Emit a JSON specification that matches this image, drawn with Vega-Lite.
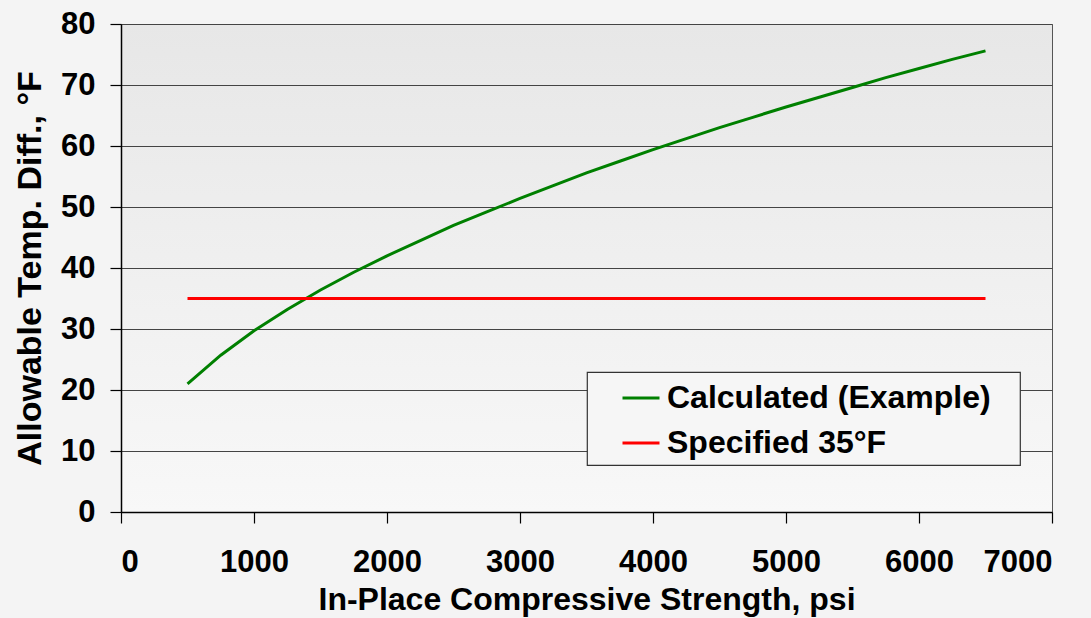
{
  "$schema": "https://vega.github.io/schema/vega-lite/v6.json",
  "width": 931,
  "height": 488,
  "autosize": {"type": "none"},
  "padding": {"left": 121, "top": 24, "right": 39, "bottom": 106},
  "background": "#f4f4f4",
  "config": {
    "font": "Liberation Sans",
    "view": {
      "stroke": "#555555",
      "strokeWidth": 1,
      "fill": {
        "gradient": "linear",
        "x1": 0, "y1": 0, "x2": 0, "y2": 1,
        "stops": [
          {"offset": 0, "color": "#e7e7e7"},
          {"offset": 1, "color": "#f8f8f8"}
        ]
      }
    },
    "legend": {"strokeWidth": 1.2},
    "axis": {
      "labelFont": "Liberation Sans",
      "labelFontWeight": "bold",
      "labelFontSize": 31,
      "labelColor": "#000000",
      "titleFont": "Liberation Sans",
      "titleFontWeight": "bold",
      "titleColor": "#000000",
      "domainColor": "#000000",
      "domainWidth": 1.5,
      "tickColor": "#000000",
      "tickSize": 11,
      "tickWidth": 1.2
    }
  },
  "data": {
    "values": [
      {"psi": 500, "temp": 21.0, "series": "Calculated (Example)"},
      {"psi": 750, "temp": 25.7, "series": "Calculated (Example)"},
      {"psi": 1000, "temp": 29.7, "series": "Calculated (Example)"},
      {"psi": 1250, "temp": 33.2, "series": "Calculated (Example)"},
      {"psi": 1500, "temp": 36.4, "series": "Calculated (Example)"},
      {"psi": 1750, "temp": 39.3, "series": "Calculated (Example)"},
      {"psi": 2000, "temp": 42.0, "series": "Calculated (Example)"},
      {"psi": 2250, "temp": 44.5, "series": "Calculated (Example)"},
      {"psi": 2500, "temp": 47.0, "series": "Calculated (Example)"},
      {"psi": 2750, "temp": 49.2, "series": "Calculated (Example)"},
      {"psi": 3000, "temp": 51.4, "series": "Calculated (Example)"},
      {"psi": 3250, "temp": 53.5, "series": "Calculated (Example)"},
      {"psi": 3500, "temp": 55.6, "series": "Calculated (Example)"},
      {"psi": 3750, "temp": 57.5, "series": "Calculated (Example)"},
      {"psi": 4000, "temp": 59.4, "series": "Calculated (Example)"},
      {"psi": 4250, "temp": 61.2, "series": "Calculated (Example)"},
      {"psi": 4500, "temp": 63.0, "series": "Calculated (Example)"},
      {"psi": 4750, "temp": 64.7, "series": "Calculated (Example)"},
      {"psi": 5000, "temp": 66.4, "series": "Calculated (Example)"},
      {"psi": 5250, "temp": 68.0, "series": "Calculated (Example)"},
      {"psi": 5500, "temp": 69.6, "series": "Calculated (Example)"},
      {"psi": 5750, "temp": 71.2, "series": "Calculated (Example)"},
      {"psi": 6000, "temp": 72.7, "series": "Calculated (Example)"},
      {"psi": 6250, "temp": 74.2, "series": "Calculated (Example)"},
      {"psi": 6500, "temp": 75.6, "series": "Calculated (Example)"},
      {"psi": 500, "temp": 35, "series": "Specified 35°F"},
      {"psi": 6500, "temp": 35, "series": "Specified 35°F"}
    ]
  },
  "mark": {"type": "line", "strokeWidth": 3},
  "encoding": {
    "x": {
      "field": "psi",
      "type": "quantitative",
      "scale": {"domain": [0, 7000], "nice": false},
      "axis": {
        "values": [0, 1000, 2000, 3000, 4000, 5000, 6000, 7000],
        "format": "d",
        "grid": false,
        "labelPadding": 24,
        "title": "In-Place Compressive Strength, psi",
        "titleFontSize": 32,
        "titlePadding": 7
      }
    },
    "y": {
      "field": "temp",
      "type": "quantitative",
      "scale": {"domain": [0, 80], "nice": false},
      "axis": {
        "values": [0, 10, 20, 30, 40, 50, 60, 70, 80],
        "grid": true,
        "gridColor": "#444444",
        "gridWidth": 1.2,
        "gridOpacity": 1,
        "labelPadding": 15,
        "title": "Allowable Temp. Diff., °F",
        "titleFontSize": 34,
        "titlePadding": 13
      }
    },
    "color": {
      "field": "series",
      "type": "nominal",
      "scale": {
        "domain": ["Calculated (Example)", "Specified 35°F"],
        "range": ["#008000", "#ff0000"]
      },
      "legend": {
        "title": null,
        "orient": "none",
        "legendX": 466,
        "legendY": 348,
        "direction": "vertical",
        "fillColor": "#f6f6f6",
        "strokeColor": "#333333",
        "padding": 6,
        "symbolType": "stroke",
        "symbolSize": 1369,
        "symbolStrokeWidth": 3,
        "symbolOffset": 28,
        "labelFont": "Liberation Sans",
        "labelFontWeight": "bold",
        "labelFontSize": 32,
        "labelColor": "#000000",
        "labelOffset": 6,
        "labelLimit": 600,
        "labelExpr": "datum.label + '\u2800'",
        "rowPadding": 9
      }
    }
  }
}
